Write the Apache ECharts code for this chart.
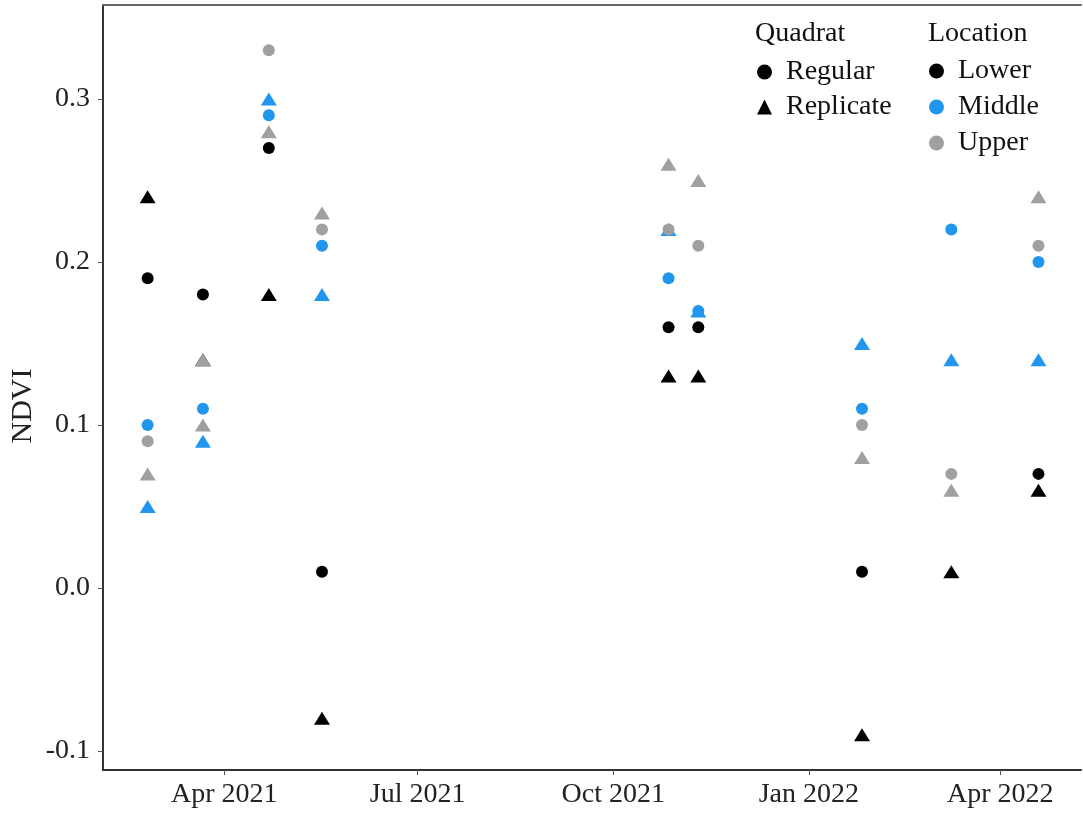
<!DOCTYPE html>
<html><head><meta charset="utf-8">
<script src="https://cdn.jsdelivr.net/npm/echarts@6/dist/echarts.min.js"></script>
<style>html,body{margin:0;padding:0;background:#fff}#c{width:1083px;height:814px}</style>
</head><body><div id="c"></div>
<script>
// Sampling dates
const dates = ['2021-02-24','2021-03-22','2021-04-22','2021-05-17','2021-10-27','2021-11-10','2022-01-26','2022-03-09','2022-04-19'];
// NDVI per location & quadrat (null = not visible)
const lowerRegular    = [0.19, 0.18, 0.27, 0.01, 0.16, 0.16, 0.01, null, 0.07];
const lowerReplicate  = [0.24, 0.14, 0.18, -0.08, 0.13, 0.13, -0.09, 0.01, 0.06];
const middleRegular   = [0.10, 0.11, 0.29, 0.21, 0.19, 0.17, 0.11, 0.22, 0.20];
const middleReplicate = [0.05, 0.09, 0.30, 0.18, 0.22, 0.17, 0.15, 0.14, 0.14];
const upperRegular    = [0.09, null, 0.33, 0.22, 0.22, 0.21, 0.10, 0.07, 0.21];
const upperReplicate  = [0.07, 0.10, 0.28, 0.23, 0.26, 0.25, 0.08, 0.06, 0.24];
const upperReplicateExtra = [['2021-03-22', 0.14]];
const xTickDates  = ['2021-04-01','2021-07-01','2021-10-01','2022-01-01','2022-04-01'];
const xTickLabels = ['Apr 2021','Jul 2021','Oct 2021','Jan 2022','Apr 2022'];
const yTicks = [-0.1, 0.0, 0.1, 0.2, 0.3];
const yTickLabels = ['-0.1','0.0','0.1','0.2','0.3'];

const ts = s => { const p = s.split('-').map(Number); return Date.UTC(p[0], p[1]-1, p[2]); };
const pts = arr => dates.map((d,i) => arr[i] == null ? null : [ts(d), arr[i]]).filter(Boolean);

const BLACK = '#000000', BLUE = '#2196EE', GRAY = '#A0A0A0';
const FONT = '"Liberation Serif", "DejaVu Serif", serif';
const CIRC = 12, TRI = [16, 13];

const chart = echarts.init(document.getElementById('c'), null, {renderer: 'canvas'});
const xTickTs = xTickDates.map(ts);
const XMIN = ts('2021-02-03'), XMAX = ts('2022-05-09');

function sc(name, data, color, shape, z) {
  return {
    type: 'scatter', name, data, symbol: shape,
    symbolSize: shape === 'circle' ? CIRC : TRI,
    itemStyle: {color, opacity: 1}, z, silent: true, animation: false
  };
}

const legendText = {fontFamily: FONT, fontSize: 28, color: '#111', padding: [0, 0, 0, 9]};

chart.setOption({
  animation: false,
  grid: {left: 103, right: 2, top: 5, bottom: 44, containLabel: false},
  xAxis: [{
    type: 'value', min: XMIN, max: XMAX,
    splitLine: {show: false},
    axisLine: {onZero: false, lineStyle: {color: '#333', width: 2}},
    axisTick: {show: true, customValues: xTickTs, length: 5, lineStyle: {color: '#555', width: 1}},
    axisLabel: {customValues: xTickTs, margin: 11, fontFamily: FONT, fontSize: 28, color: '#222',
      formatter: v => { const i = xTickTs.indexOf(v); return i >= 0 ? xTickLabels[i] : ''; }}
  }, {
    type: 'value', position: 'top', min: XMIN, max: XMAX,
    axisLine: {show: true, onZero: false, lineStyle: {color: '#666', width: 2}},
    axisTick: {show: false}, axisLabel: {show: false}, splitLine: {show: false}
  }],
  yAxis: {
    type: 'value', min: -0.1117, max: 0.3577,
    splitLine: {show: false},
    axisLine: {show: true, onZero: false, lineStyle: {color: '#333', width: 2}},
    axisTick: {show: true, customValues: yTicks, length: 5, lineStyle: {color: '#555', width: 1}},
    axisLabel: {customValues: yTicks, margin: 13, fontFamily: FONT, fontSize: 28, color: '#222',
      formatter: v => { const i = yTicks.findIndex(t => Math.abs(t - v) < 1e-9); return i >= 0 ? yTickLabels[i] : ''; }}
  },
  legend: [{
    data: [{name: 'Regular', icon: 'circle'}, {name: 'Replicate', icon: 'triangle'}],
    orient: 'vertical', left: 752, top: 53, itemWidth: 15, itemHeight: 15, itemGap: 7,
    selectedMode: false, textStyle: legendText
  }, {
    data: [{name: 'Lower', icon: 'circle'}, {name: 'Middle', icon: 'circle'}, {name: 'Upper', icon: 'circle'}],
    orient: 'vertical', left: 924, top: 52, itemWidth: 15, itemHeight: 15, itemGap: 8,
    selectedMode: false, textStyle: legendText
  }],
  graphic: [
    {type: 'text', left: 755, top: 20, style: {text: 'Quadrat', font: '28px ' + FONT, fill: '#111'}},
    {type: 'text', left: 928, top: 20, style: {text: 'Location', font: '28px ' + FONT, fill: '#111'}},
    {type: 'text', x: 23, y: 406, rotation: Math.PI / 2,
      style: {text: 'NDVI', font: '30px ' + FONT, fill: '#222', align: 'center', verticalAlign: 'middle'}}
  ],
  series: [
    sc('Lower Replicate', pts(lowerReplicate), BLACK, 'triangle', 2),
    sc('Lower Regular', pts(lowerRegular), BLACK, 'circle', 2),
    sc('Middle Replicate', pts(middleReplicate), BLUE, 'triangle', 3),
    sc('Middle Regular', pts(middleRegular), BLUE, 'circle', 3),
    sc('Upper Replicate', pts(upperReplicate).concat(upperReplicateExtra.map(p => [ts(p[0]), p[1]])), GRAY, 'triangle', 4),
    sc('Upper Regular', pts(upperRegular), GRAY, 'circle', 4),
    sc('Regular', [], BLACK, 'circle', 1),
    sc('Replicate', [], BLACK, 'triangle', 1),
    sc('Lower', [], BLACK, 'circle', 1),
    sc('Middle', [], BLUE, 'circle', 1),
    sc('Upper', [], GRAY, 'circle', 1)
  ]
});
</script></body></html>
